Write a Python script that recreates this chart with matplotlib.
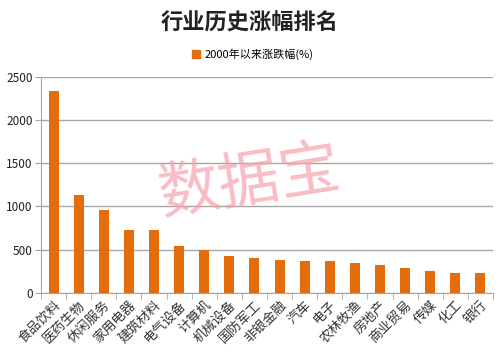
import matplotlib
matplotlib.use('Agg')
import matplotlib.pyplot as plt
from matplotlib.patches import Patch

plt.rcParams['font.family'] = ['Noto Sans CJK SC', 'DejaVu Sans']

industries = ['食品饮料', '医药生物', '休闲服务', '家用电器', '建筑材料', '电气设备',
              '计算机', '机械设备', '国防军工', '非银金融', '汽车', '电子',
              '农林牧渔', '房地产', '商业贸易', '传媒', '化工', '银行']
gains = [2340, 1135, 965, 730, 730, 540, 498, 425, 400, 380, 372, 370,
         350, 318, 288, 258, 236, 236]
yticks = [0, 500, 1000, 1500, 2000, 2500]

bar_color = '#E46C0A'
grid_color = '#A6A6A6'

fig = plt.figure(figsize=(5.0, 3.59), dpi=100)
ax = fig.add_axes([0.082, 0.184, 0.904, 0.602])

x = list(range(len(industries)))
ax.bar(x, gains, width=0.4, color=bar_color, zorder=3)

ax.set_xlim(-0.5, len(industries) - 0.5)
ax.set_ylim(0, 2500)
ax.set_yticks(yticks)
ax.set_yticklabels([str(v) for v in yticks], fontsize=8.5, color='#222222')
ax.yaxis.grid(True, color=grid_color, linewidth=1, zorder=0)

ax.set_xticks(x)
ax.set_xticklabels(industries, rotation=45, ha='right', rotation_mode='anchor',
                   fontsize=9.5, color='#333333', fontweight='light')
ax.tick_params(axis='x', length=0, pad=4)
ax.set_xticks([i - 0.5 for i in range(len(industries) + 1)], minor=True)
ax.tick_params(axis='x', which='minor', length=4, color=grid_color)
ax.tick_params(axis='y', length=4, color=grid_color, pad=2)

for side in ['top', 'right']:
    ax.spines[side].set_visible(False)
for side in ['left', 'bottom']:
    ax.spines[side].set_color(grid_color)

fig.text(0.5, 0.935, '行业历史涨幅排名', ha='center', va='center',
         fontsize=16, fontweight='bold', color='#222222')

fig.legend(handles=[Patch(color=bar_color, label='2000年以来涨跌幅(%)')],
           loc='center', bbox_to_anchor=(0.505, 0.848), frameon=False,
           fontsize=8, handlelength=0.7, handleheight=0.7, handletextpad=0.4)

fig.text(0.5, 0.49, '数据宝', ha='center', va='center', fontsize=44,
         color='#F7A0AA', alpha=0.7, rotation=9, fontweight='light', zorder=10)

fig.savefig('out.png', dpi=100)
